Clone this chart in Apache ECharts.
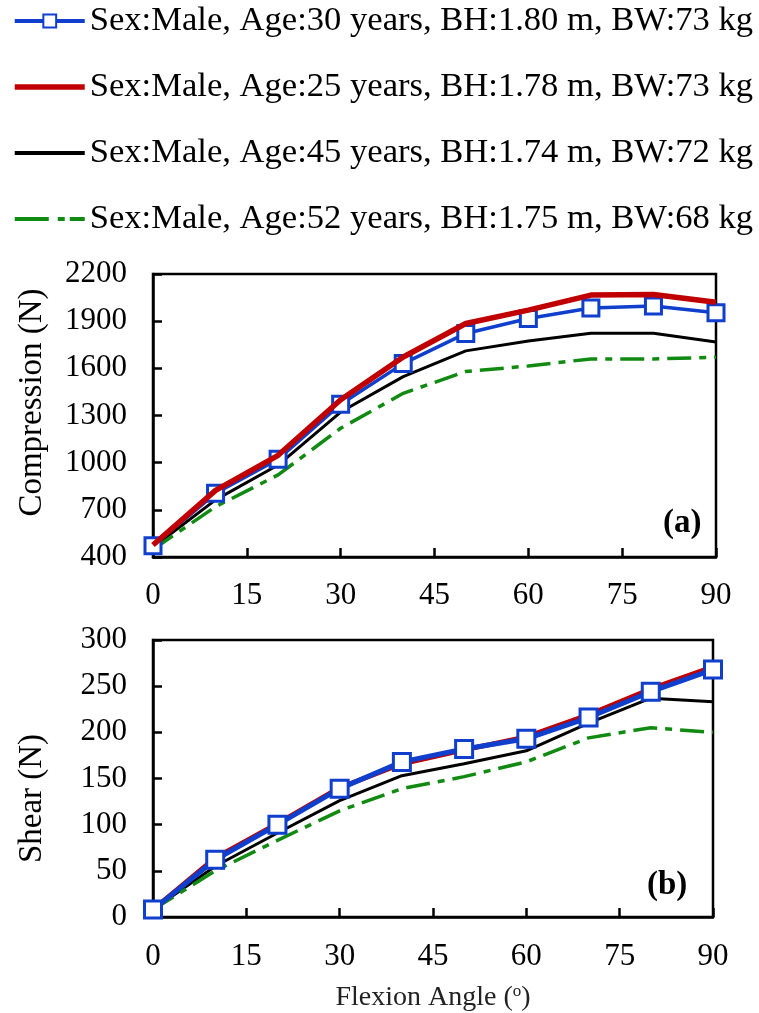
<!DOCTYPE html>
<html>
<head>
<meta charset="utf-8">
<script src="https://cdn.jsdelivr.net/npm/echarts@6/dist/echarts.min.js"></script>
<style>
html,body{margin:0;padding:0;background:#fff;}
#c{width:759px;height:1013px;}
</style>
</head>
<body>
<div id="c"></div>
<script>
// ---- data ----
const angles = [0, 10, 20, 30, 40, 50, 60, 70, 80, 90];
const seriesNames = [
  'Sex:Male, Age:30 years, BH:1.80 m, BW:73 kg',
  'Sex:Male, Age:25 years, BH:1.78 m, BW:73 kg',
  'Sex:Male, Age:45 years, BH:1.74 m, BW:72 kg',
  'Sex:Male, Age:52 years, BH:1.75 m, BW:68 kg'
];
const comp30 = [472, 805, 1022, 1372, 1630, 1822, 1917, 1984, 1997, 1954];
const comp25 = [476, 824, 1047, 1400, 1672, 1885, 1970, 2066, 2070, 2020];
const comp45 = [462, 763, 985, 1322, 1547, 1711, 1774, 1823, 1823, 1768];
const comp52 = [448, 720, 922, 1219, 1441, 1580, 1615, 1660, 1660, 1670];
const shear30 = [8, 62, 100, 139, 168, 182, 193, 216, 244, 268];
const shear25 = [8, 64, 101, 140, 166, 181, 195, 219, 247, 271];
const shear45 = [8, 55, 91, 126, 153, 166, 180, 210, 237, 233];
const shear52 = [8, 50, 83, 115, 139, 152, 168, 194, 205, 200];
const xTickStep = 15;
const compRange = [400, 2200, 300];
const shearRange = [0, 300, 50];
const panelLabels = ['(a)', '(b)'];
const yTitles = ['Compression (N)', 'Shear (N)'];

// ---- styles ----
const FONT = "'Liberation Serif','Times New Roman',serif";
const BLUE = '#0f3fcc', RED = '#c00000', BLACK = '#000000', GREEN = '#118a11';
const DASHDOT = [24, 8, 7, 8];
const pair = (arr) => arr.map((v, i) => [angles[i], v]);

const chart = echarts.init(document.getElementById('c'), null, {renderer: 'canvas'});

function xAxisCfg(gi, withName, margin) {
  return {
    type: 'value', gridIndex: gi, min: 0, max: 90, interval: xTickStep,
    axisLine: {lineStyle: {color: '#000', width: 2.5}},
    axisTick: {inside: true, length: 9, lineStyle: {color: '#000', width: 2.5}},
    axisLabel: {fontFamily: FONT, fontSize: 31, color: '#000', margin: margin, formatter: (v) => String(v)},
    splitLine: {show: false},
    name: withName ? 'Flexion Angle ({s|o})' : '',
    nameLocation: 'middle', nameGap: 66,
    nameTextStyle: {fontFamily: FONT, fontSize: 28, color: '#222',
      rich: {s: {fontFamily: FONT, fontSize: 17, color: '#222', verticalAlign: 'top', padding: [0, 0, 12, 0]}}}
  };
}
function yAxisCfg(gi, range, title, pad) {
  return {
    type: 'value', gridIndex: gi, min: range[0], max: range[1], interval: range[2],
    axisLine: {lineStyle: {color: '#000', width: 2.5}},
    axisTick: {inside: true, length: 9, lineStyle: {color: '#000', width: 2.5}},
    axisLabel: {fontFamily: FONT, fontSize: 31, color: '#000', margin: 26, formatter: (v) => String(v)},
    splitLine: {show: false},
    name: title, nameLocation: 'middle', nameGap: 104,
    nameTextStyle: {fontFamily: FONT, fontSize: 33, color: '#000', padding: pad}
  };
}

const option = {
  backgroundColor: '#fff',
  animation: false,
  legend: {
    orient: 'vertical', left: 12, top: 3, padding: 0,
    itemWidth: 70, itemHeight: 16, itemGap: 30,
    data: [
      {name: seriesNames[0], lineStyle: {color: BLUE, width: 4}},
      {name: seriesNames[1], itemStyle: {opacity: 0}, lineStyle: {color: RED, width: 5.5}},
      {name: seriesNames[2], itemStyle: {opacity: 0}, lineStyle: {color: BLACK, width: 4}},
      {name: seriesNames[3], itemStyle: {opacity: 0}, lineStyle: {color: GREEN, width: 4, type: [34, 9, 7, 5]}}
    ],
    textStyle: {fontFamily: FONT, fontSize: 34.6, color: '#000', lineHeight: 36}
  },
  grid: [
    {left: 153, top: 274, width: 563, height: 283, show: true, borderColor: '#000', borderWidth: 2.5, backgroundColor: 'transparent'},
    {left: 153, top: 640, width: 560, height: 277, show: true, borderColor: '#000', borderWidth: 2.5, backgroundColor: 'transparent'}
  ],
  xAxis: [xAxisCfg(0, false, 23), xAxisCfg(1, true, 24)],
  yAxis: [yAxisCfg(0, compRange, yTitles[0], [0, 0, 0, 26]), yAxisCfg(1, shearRange, yTitles[1], [0, 40, 0, 0])],
  graphic: [
    {type: 'text', left: 663, top: 507, style: {text: panelLabels[0], fontFamily: FONT, fontSize: 33, fontWeight: 'bold', fill: '#000'}},
    {type: 'text', left: 647, top: 869, style: {text: panelLabels[1], fontFamily: FONT, fontSize: 33, fontWeight: 'bold', fill: '#000'}}
  ],
  series: [
    // top panel
    {name: seriesNames[0], type: 'line', xAxisIndex: 0, yAxisIndex: 0, data: pair(comp30), z: 3,
     symbol: 'rect', symbolSize: 16, showAllSymbol: true,
     lineStyle: {color: BLUE, width: 3.5}, itemStyle: {color: '#fff', borderColor: BLUE, borderWidth: 3}},
    {name: seriesNames[1], type: 'line', xAxisIndex: 0, yAxisIndex: 0, data: pair(comp25), z: 4,
     symbol: 'none', lineStyle: {color: RED, width: 5.5}, itemStyle: {color: RED}},
    {name: seriesNames[2], type: 'line', xAxisIndex: 0, yAxisIndex: 0, data: pair(comp45), z: 2,
     symbol: 'none', lineStyle: {color: BLACK, width: 3}, itemStyle: {color: BLACK}},
    {name: seriesNames[3], type: 'line', xAxisIndex: 0, yAxisIndex: 0, data: pair(comp52), z: 2,
     symbol: 'none', lineStyle: {color: GREEN, width: 3.5, type: DASHDOT}, itemStyle: {color: GREEN}},
    // bottom panel
    {name: seriesNames[0], type: 'line', xAxisIndex: 1, yAxisIndex: 1, data: pair(shear30), z: 4,
     symbol: 'rect', symbolSize: 17, showAllSymbol: true,
     lineStyle: {color: BLUE, width: 5}, itemStyle: {color: '#fff', borderColor: BLUE, borderWidth: 3}},
    {name: seriesNames[1], type: 'line', xAxisIndex: 1, yAxisIndex: 1, data: pair(shear25), z: 3,
     symbol: 'none', lineStyle: {color: RED, width: 5}, itemStyle: {color: RED}},
    {name: seriesNames[2], type: 'line', xAxisIndex: 1, yAxisIndex: 1, data: pair(shear45), z: 2,
     symbol: 'none', lineStyle: {color: BLACK, width: 3}, itemStyle: {color: BLACK}},
    {name: seriesNames[3], type: 'line', xAxisIndex: 1, yAxisIndex: 1, data: pair(shear52), z: 2,
     symbol: 'none', lineStyle: {color: GREEN, width: 3.5, type: DASHDOT}, itemStyle: {color: GREEN}}
  ]
};
chart.setOption(option);
</script>
</body>
</html>
